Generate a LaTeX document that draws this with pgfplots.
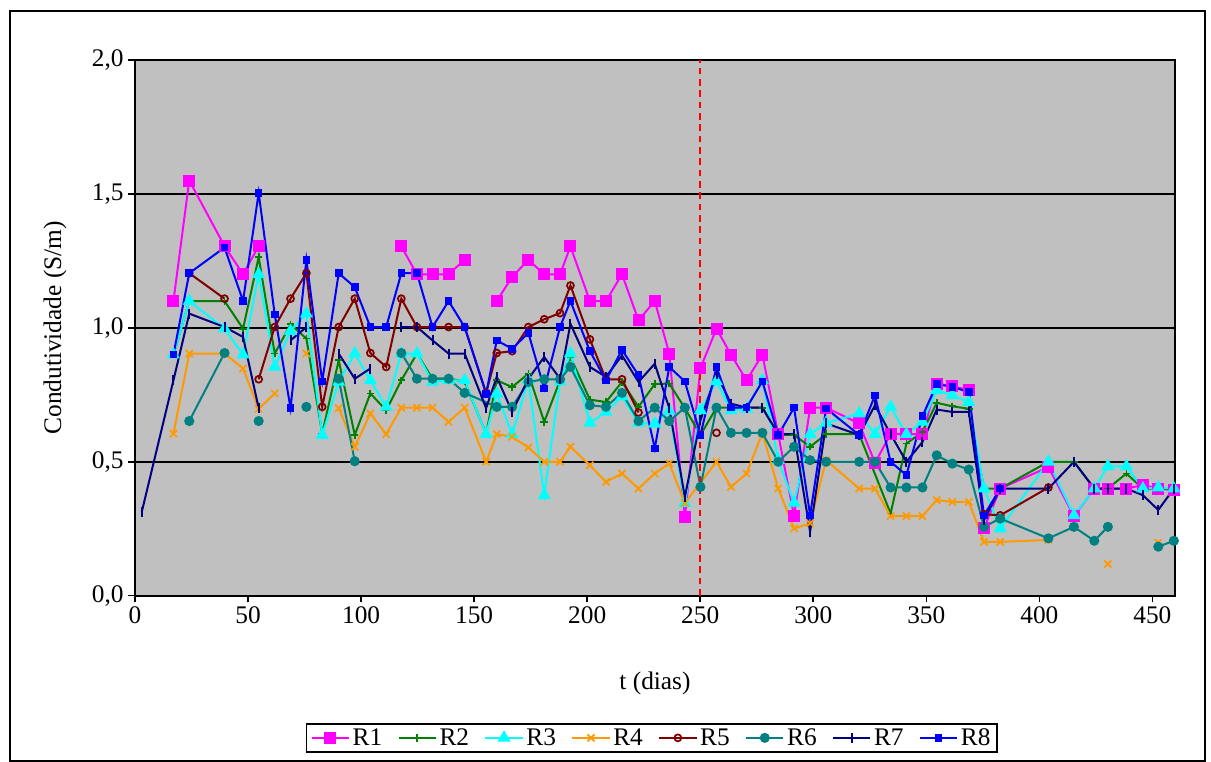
\documentclass[border=0pt]{standalone}
\usepackage{pgfplots}
\pgfplotsset{compat=1.18}
\usepackage{fontspec}
\setmainfont{Liberation Serif}
\definecolor{bggray}{HTML}{C0C0C0}
\definecolor{cR1}{HTML}{FF00FF}
\definecolor{cR2}{HTML}{008000}
\definecolor{cR3}{HTML}{00FFFF}
\definecolor{cR4}{HTML}{FF9900}
\definecolor{cR5}{HTML}{800000}
\definecolor{cR6}{HTML}{008080}
\definecolor{cR7}{HTML}{000080}
\definecolor{cR8}{HTML}{0000FF}
\begin{document}
\begin{tikzpicture}[font=\fontsize{19pt}{22pt}\selectfont]
\path[use as bounding box, fill=white] (0pt,0pt) rectangle (908.25pt,571.5pt);
\draw[line width=1.5pt] (7.5pt,0.75pt) rectangle (903.75pt,563.25pt);
\begin{axis}[
  at={(101.25pt,124.725pt)}, anchor=south west,
  scale only axis, width=780pt, height=401.775pt,
  xmin=0, xmax=460, ymin=0, ymax=2,
  axis background/.style={fill=bggray},
  axis line style={line width=1.5pt},
  xtick={0,50,...,450}, ytick={0,0.5,...,2},
  xtick pos=lower, ytick pos=left,
  tick align=outside, major tick length=5pt,
  every tick/.style={black, line width=1.2pt},
  ymajorgrids, major grid style={black, line width=1.4pt},
  /pgf/number format/.cd, assume math mode=true, use comma, fixed, fixed zerofill, precision=1,
  /pgfplots/.cd,
  xticklabel style={/pgf/number format/.cd, fixed, precision=0, fixed zerofill=false, int detect},
  tick label style={font=\fontsize{19pt}{22pt}\selectfont},
  xlabel={t (dias)}, ylabel={Condutividade (S/m)},
  xlabel style={at={(axis description cs:0.5,-0.163)}, anchor=center},
  ylabel style={at={(axis description cs:-0.077,0.5)}, anchor=center},
  label style={font=\fontsize{19pt}{22pt}\selectfont},
  unbounded coords=jump,
  every axis plot/.append style={line width=1.5pt},
  legend columns=8,
  legend style={at={(0.497,-0.2376)}, anchor=north, draw=black, line width=1.2pt,
    font=\fontsize{19pt}{22pt}\selectfont, inner xsep=3pt, inner ysep=1.5pt,
    /tikz/every even column/.append style={column sep=9.5pt}},
  legend image code/.code={\draw[mark repeat=2,mark phase=2] plot coordinates {(0pt,0pt) (14pt,0pt) (28pt,0pt)};},
]
\addplot[cR1, mark=square*, mark size=3.75pt, mark options={solid, fill=cR1}] coordinates {
(17,1.10)(24,1.55)(39.6,1.305)(47.8,1.20)(54.7,1.305)(61.8,nan)
(117.8,1.304)(124.7,1.20)(131.6,1.20)(138.7,1.20)(145.8,1.254)(155.3,nan)
(160,1.10)(166.8,1.19)(174,1.254)(181,1.20)(188,1.20)(192.6,1.304)(201.2,1.10)(208.3,1.10)(215.4,1.20)(222.7,1.028)(229.9,1.10)(236.3,0.904)(243.2,0.292)(250.1,0.85)(257.2,0.997)(263.6,0.90)(270.5,0.804)(277.5,0.90)(284.5,0.603)(291.5,0.297)(298.6,0.702)(305.7,0.702)(320.3,0.643)(327.3,0.496)(334.2,0.603)(341.2,0.603)(348.3,0.603)(354.6,0.792)(361.5,0.782)(368.8,0.767)(375.5,0.251)(382.7,0.40)(404,0.48)(415.3,0.297)(424.3,0.40)(430.3,0.40)(438.5,0.40)(445.8,0.413)(452.6,0.40)(459.5,0.394)
};
\addlegendentry{R1}
\addplot[cR2, mark=+, mark size=2.8pt, mark options={solid, line width=1.3pt}] coordinates {
(17,0.90)(24,1.10)(39.6,1.10)(47.8,0.997)(54.7,1.264)(61.8,0.904)(68.8,1.013)(75.8,0.96)(82.8,0.605)(90.1,0.879)(97.2,0.60)(104.1,0.755)(111.1,0.692)(117.8,0.804)(124.7,0.904)(131.6,0.81)(138.7,0.81)(145.8,0.80)(155.3,0.605)(160,0.804)(166.8,0.779)(174,0.829)(181,0.649)(188,0.804)(192.6,0.891)(201.2,0.732)(208.3,0.723)(215.4,0.798)(222.7,0.705)(229.9,0.79)(236.3,0.792)(243.2,0.70)(250.1,0.60)(257.2,0.702)(263.6,0.702)(270.5,0.702)(277.5,0.702)(284.5,0.60)(291.5,0.60)(298.6,0.556)(305.7,0.603)(320.3,0.603)(334.2,0.307)(341.2,0.568)(348.3,0.611)(354.6,0.72)(361.5,0.707)(368.8,0.698)(375.5,0.40)(382.7,0.40)(404,0.50)(415.3,0.50)(424.3,0.40)(430.3,0.40)(438.5,0.456)(445.8,0.40)(452.6,0.40)(459.5,0.40)
};
\addlegendentry{R2}
\addplot[cR3, mark=triangle*, mark size=4.2pt, mark options={solid, fill=cR3}] coordinates {
(17,0.90)(24,1.10)(39.6,0.997)(47.8,0.90)(54.7,1.20)(61.8,0.854)(68.8,0.988)(75.8,1.053)(82.8,0.60)(90.1,0.798)(97.2,0.904)(104.1,0.804)(111.1,0.705)(117.8,0.904)(124.7,0.904)(131.6,0.798)(138.7,0.804)(145.8,0.804)(155.3,0.603)(160,0.754)(166.8,0.603)(174,0.804)(181,0.375)(188,0.80)(192.6,0.904)(201.2,0.645)(208.3,0.686)(215.4,0.744)(222.7,0.645)(229.9,0.642)(236.3,0.69)(243.2,0.346)(250.1,0.692)(257.2,0.80)(263.6,0.692)(270.5,0.698)(277.5,0.804)(284.5,0.506)(291.5,0.347)(298.6,0.603)(305.7,0.645)(320.3,0.68)(327.3,0.603)(334.2,0.705)(341.2,0.603)(348.3,0.649)(354.6,0.767)(361.5,0.748)(368.8,0.723)(375.5,0.40)(382.7,0.251)(404,0.50)(415.3,0.30)(424.3,0.40)(430.3,0.483)(438.5,0.483)(445.8,0.40)(452.6,0.404)(459.5,0.40)
};
\addlegendentry{R3}
\addplot[cR4, mark=x, mark size=3.75pt, mark options={solid, line width=1.3pt}] coordinates {
(17,0.605)(24,0.904)(39.6,0.904)(47.8,0.848)(54.7,0.698)(61.8,0.755)(68.8,nan)(75.8,0.904)(82.8,nan)(90.1,0.70)(97.2,0.556)(104.1,0.68)(111.1,0.603)(117.8,0.702)(124.7,0.702)(131.6,0.702)(138.7,0.649)(145.8,0.702)(155.3,0.50)(160,0.603)(166.8,0.593)(174,0.553)(181,0.50)(188,0.50)(192.6,0.556)(201.2,0.487)(208.3,0.425)(215.4,0.456)(222.7,0.40)(229.9,0.456)(236.3,0.494)(243.2,0.346)(257.2,0.50)(263.6,0.406)(270.5,0.456)(277.5,0.608)(284.5,0.40)(291.5,0.251)(298.6,0.27)(305.7,0.506)(320.3,0.40)(327.3,0.40)(334.2,0.297)(341.2,0.297)(348.3,0.297)(354.6,0.357)(361.5,0.35)(368.8,0.35)(375.5,0.201)(382.7,0.201)(404,0.208)(415.3,nan)(430.3,0.118)(438.5,nan)(452.6,0.198)
};
\addlegendentry{R4}
\addplot[cR5, mark=o, mark size=2.6pt, mark options={solid, line width=1.3pt}] coordinates {
(24,1.204)(39.6,1.109)(47.8,nan)(54.7,0.808)(61.8,1.003)(68.8,1.109)(75.8,1.204)(82.8,0.705)(90.1,1.003)(97.2,1.109)(104.1,0.906)(111.1,0.854)(117.8,1.109)(124.7,1.003)(131.6,1.003)(138.7,1.003)(145.8,1.003)(155.3,0.757)(160,0.906)(166.8,0.913)(174,1.003)(181,1.032)(188,1.055)(192.6,1.158)(201.2,0.957)(208.3,0.808)(215.4,0.808)(222.7,0.684)(229.9,nan)(257.2,0.608)(263.6,nan)(375.5,0.304)(382.7,0.30)(404,0.404)
};
\addlegendentry{R5}
\addplot[cR6, mark=*, mark size=3pt, mark options={solid, fill=cR6}] coordinates {
(24,0.652)(39.6,0.906)(47.8,nan)(54.7,0.652)(61.8,nan)(75.8,0.705)(82.8,nan)(90.1,0.81)(97.2,0.502)(104.1,nan)(117.8,0.906)(124.7,0.81)(131.6,0.81)(138.7,0.81)(145.8,0.757)(160,0.705)(166.8,0.705)(174,0.798)(181,0.808)(188,0.808)(192.6,0.854)(201.2,0.711)(208.3,0.705)(215.4,0.757)(222.7,0.652)(229.9,0.702)(236.3,0.652)(243.2,0.702)(250.1,0.406)(257.2,0.702)(263.6,0.608)(270.5,0.608)(277.5,0.608)(284.5,0.50)(291.5,0.556)(298.6,0.506)(305.7,0.50)(320.3,0.50)(327.3,0.50)(334.2,0.404)(341.2,0.404)(348.3,0.404)(354.6,0.524)(361.5,0.493)(368.8,0.471)(375.5,0.257)(382.7,0.288)(404,0.214)(415.3,0.257)(424.3,0.205)(430.3,0.257)(438.5,nan)(452.6,0.183)(459.5,0.205)
};
\addlegendentry{R6}
\addplot[cR7, mark=|, mark size=3.75pt, mark options={solid, line width=1.5pt}] coordinates {
(3,0.313)(17,0.804)(24,1.053)(39.6,1.003)(47.8,0.966)(54.7,0.70)(61.8,nan)(68.8,0.953)(75.8,1.003)(82.8,nan)(90.1,0.904)(97.2,0.81)(104.1,0.848)(111.1,nan)(117.8,1.003)(124.7,1.003)(131.6,0.953)(138.7,0.904)(145.8,0.904)(155.3,0.70)(160,0.817)(166.8,0.686)(174,0.81)(181,0.891)(188,0.81)(192.6,1.015)(201.2,0.854)(208.3,0.817)(215.4,0.897)(222.7,0.798)(229.9,0.866)(236.3,0.70)(243.2,0.369)(250.1,0.655)(257.2,0.829)(263.6,0.717)(270.5,0.702)(277.5,0.702)(284.5,0.603)(291.5,0.603)(298.6,0.239)(305.7,0.643)(320.3,0.60)(327.3,0.711)(334.2,0.603)(341.2,0.50)(348.3,0.574)(354.6,0.695)(361.5,0.686)(368.8,0.686)(375.5,0.282)(382.7,0.40)(404,0.40)(415.3,0.50)(424.3,0.40)(430.3,0.40)(438.5,0.40)(445.8,0.375)(452.6,0.32)(459.5,0.40)
};
\addlegendentry{R7}
\addplot[cR8, mark=square*, mark size=2.1pt, mark options={solid, fill=cR8}] coordinates {
(17,0.90)(24,1.204)(39.6,1.30)(47.8,1.10)(54.7,1.504)(61.8,1.05)(68.8,0.70)(75.8,1.254)(82.8,0.80)(90.1,1.204)(97.2,1.152)(104.1,1.003)(111.1,1.003)(117.8,1.204)(124.7,1.204)(131.6,1.003)(138.7,1.10)(145.8,1.003)(155.3,0.754)(160,0.953)(166.8,0.922)(174,0.981)(181,0.773)(188,1.003)(192.6,1.10)(201.2,0.913)(208.3,0.804)(215.4,0.918)(222.7,0.823)(229.9,0.55)(236.3,0.854)(243.2,0.80)(250.1,0.60)(257.2,0.854)(263.6,0.702)(270.5,0.702)(277.5,0.80)(284.5,0.60)(291.5,0.702)(298.6,0.30)(305.7,0.699)(320.3,0.60)(327.3,0.748)(334.2,0.50)(341.2,0.45)(348.3,0.67)(354.6,0.79)(361.5,0.78)(368.8,0.76)(375.5,0.30)(382.7,0.40)
};
\addlegendentry{R8}
\addplot[red, line width=1.5pt, dash pattern=on 5pt off 3.5pt, forget plot] coordinates {(250,0) (250,2)};
\end{axis}
\end{tikzpicture}
\end{document}
